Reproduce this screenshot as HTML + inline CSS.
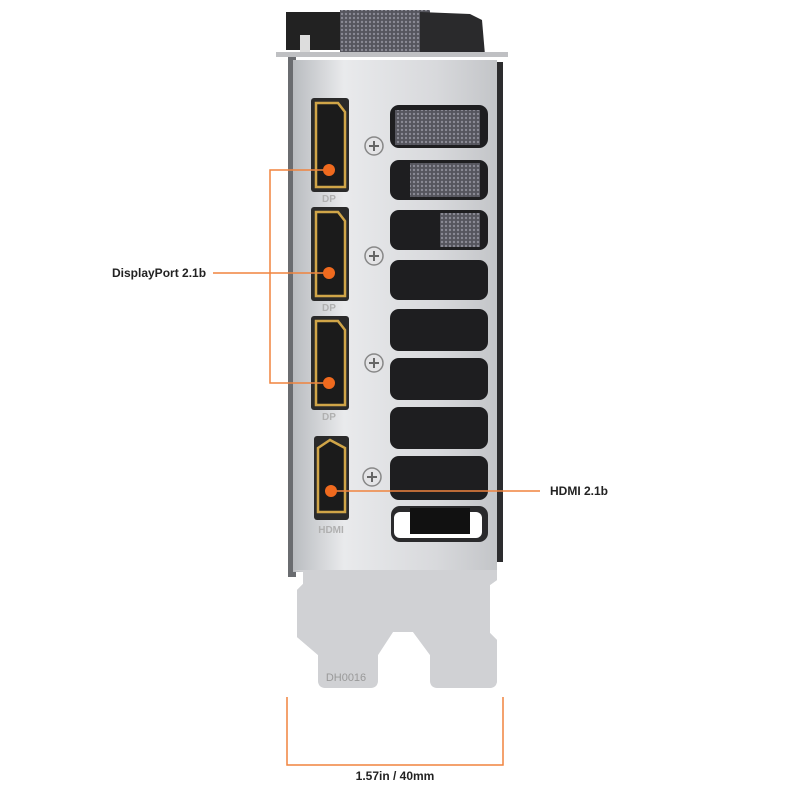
<!DOCTYPE html>
<html><head><meta charset="utf-8"><style>
html,body{margin:0;padding:0;background:#fff;}
svg{display:block;}
text{font-family:"Liberation Sans",sans-serif;}
</style></head><body>
<svg width="800" height="800" viewBox="0 0 800 800" xmlns="http://www.w3.org/2000/svg">
<defs>
<linearGradient id="plate" x1="0" x2="1" y1="0" y2="0">
<stop offset="0" stop-color="#b9bcc0"/><stop offset="0.25" stop-color="#e9eaec"/><stop offset="0.7" stop-color="#d8d9dc"/><stop offset="1" stop-color="#c3c5c8"/>
</linearGradient>
<pattern id="mesh" width="4" height="4" patternUnits="userSpaceOnUse">
<rect width="4" height="4" fill="#55555d"/><circle cx="2" cy="2" r="1.2" fill="#8a8a95"/>
</pattern>
</defs>
<!-- top shroud -->
<path d="M286 12 L345 12 L345 50 L286 50 Z" fill="#222"/>
<rect x="340" y="10" width="90" height="45" fill="url(#mesh)"/>
<path d="M420 12 L470 14 L482 20 L485 55 L420 55 Z" fill="#2a2a2c"/>
<rect x="300" y="35" width="10" height="20" fill="#ddd"/>
<rect x="276" y="52" width="232" height="5" fill="#bfc0c3"/>
<rect x="288" y="57" width="8" height="520" fill="#6a6c70"/>
<rect x="497" y="62" width="6" height="500" fill="#2c2c2e"/>
<!-- plate -->
<path d="M293 60 L497 60 L497 580 L490 585 L490 633 L497 640 L497 680 Q497 688 489 688 L438 688 Q430 688 430 680 L430 655 L413 632 L393 632 L378 655 L378 680 Q378 688 370 688 L326 688 Q318 688 318 680 L318 655 L297 637 L297 590 L303 584 L303 572 L293 572 Z" fill="url(#plate)"/>
<path d="M293 570 L497 570 L497 580 L490 585 L490 633 L497 640 L497 680 Q497 688 489 688 L438 688 Q430 688 430 680 L430 655 L413 632 L393 632 L378 655 L378 680 Q378 688 370 688 L326 688 Q318 688 318 680 L318 655 L297 637 L297 590 L303 584 L303 572 Z" fill="#d0d1d4"/>
<text x="346" y="681" font-size="11" fill="#999" text-anchor="middle">DH0016</text>
<!-- vents -->
<g fill="#1e1e20">
<rect x="390" y="105" width="98" height="43" rx="9"/>
<rect x="390" y="160" width="98" height="40" rx="9"/>
<rect x="390" y="210" width="98" height="40" rx="9"/>
<rect x="390" y="260" width="98" height="40" rx="9"/>
<rect x="390" y="309" width="98" height="42" rx="9"/>
<rect x="390" y="358" width="98" height="42" rx="9"/>
<rect x="390" y="407" width="98" height="42" rx="9"/>
<rect x="390" y="456" width="98" height="44" rx="9"/>
<rect x="391" y="506" width="97" height="36" rx="9" fill="#2a2a2c"/>
</g>
<rect x="395" y="110" width="85" height="35" fill="url(#mesh)"/>
<rect x="410" y="163" width="70" height="34" fill="url(#mesh)"/>
<rect x="440" y="213" width="40" height="34" fill="url(#mesh)"/>
<rect x="394" y="512" width="88" height="26" rx="6" fill="#fff"/>
<rect x="410" y="508" width="60" height="26" fill="#111"/>
<!-- screws -->
<g fill="#e4e4e6" stroke="#888" stroke-width="1.5">
<circle cx="374" cy="146" r="9"/><circle cx="374" cy="256" r="9"/><circle cx="374" cy="363" r="9"/><circle cx="372" cy="477" r="9"/>
</g>
<g fill="none" stroke="#666" stroke-width="2">
<path d="M369 146h10M374 141v10M369 256h10M374 251v10M369 363h10M374 358v10M367 477h10M372 472v10"/>
</g>
<!-- ports -->
<g>
<rect x="311" y="98" width="38" height="94" rx="3" fill="#2a2a2a"/>
<path d="M316 103 L338 103 L345 112 L345 187 L316 187 Z" fill="#1b1b1b" stroke="#d0a548" stroke-width="2.5"/>
<rect x="311" y="207" width="38" height="94" rx="3" fill="#2a2a2a"/>
<path d="M316 212 L338 212 L345 221 L345 296 L316 296 Z" fill="#1b1b1b" stroke="#d0a548" stroke-width="2.5"/>
<rect x="311" y="316" width="38" height="94" rx="3" fill="#2a2a2a"/>
<path d="M316 321 L338 321 L345 330 L345 405 L316 405 Z" fill="#1b1b1b" stroke="#d0a548" stroke-width="2.5"/>
<rect x="314" y="436" width="35" height="84" rx="3" fill="#2a2a2a"/>
<path d="M318 448 L330 440 L345 448 L345 512 L318 512 Z" fill="#1b1b1b" stroke="#d0a548" stroke-width="2.5"/>
</g>
<g font-size="10" font-weight="bold" fill="#b0b0b0" text-anchor="middle">
<text x="329" y="202">DP</text><text x="329" y="311">DP</text><text x="329" y="420">DP</text><text x="331" y="533">HDMI</text>
</g>
<!-- callouts -->
<g stroke="#f0843f" stroke-width="1.5" fill="none">
<path d="M329 170 H270 V383 H329"/>
<path d="M213 273 H329"/>
<path d="M331 491 H540"/>
<path d="M287 697 V765 H503 V697"/>
</g>
<g fill="#f06a1e">
<circle cx="329" cy="170" r="6"/><circle cx="329" cy="273" r="6"/><circle cx="329" cy="383" r="6"/><circle cx="331" cy="491" r="6"/>
</g>
<g font-size="12" font-weight="bold" fill="#222">
<text x="112" y="277">DisplayPort 2.1b</text>
<text x="550" y="495">HDMI 2.1b</text>
<text x="395" y="780" text-anchor="middle">1.57in / 40mm</text>
</g>
</svg>
</body></html>
